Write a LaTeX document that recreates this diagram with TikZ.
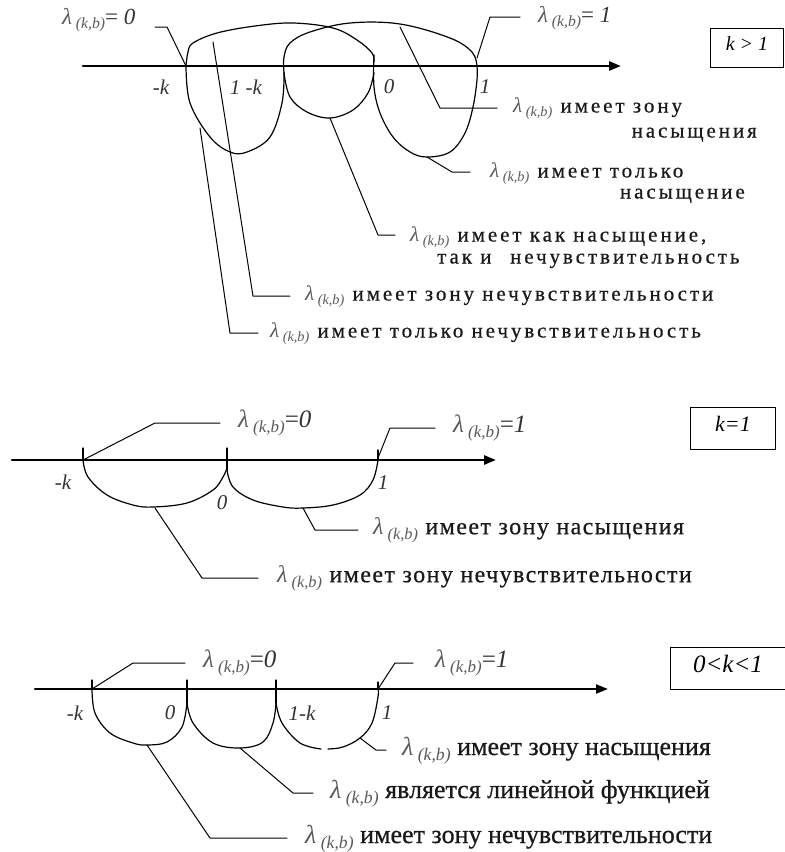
\documentclass[tikz,border=0pt]{standalone}
\usepackage{fontspec}
\setmainfont{Liberation Serif}
\newfontfamily\spc[LetterSpace=14,FakeBold=0.6]{Liberation Serif}
\newfontfamily\spb[LetterSpace=6,FakeBold=0.6]{Liberation Serif}
\newfontfamily\spn[FakeBold=0.6]{Liberation Serif}
\usepackage{graphicx}
\usetikzlibrary{arrows.meta}
\newcommand\lmb{{\color{black!65}\fontspec{Liberation Serif}\textit{λ}\,\raisebox{-0.45ex}{\scalebox{0.68}{\textit{(k,b)}}}}}
\begin{document}
\begin{tikzpicture}[x=1pt,y=-1pt,line cap=round,line join=round,
  axisln/.style={line width=2.6pt,-{Triangle[length=12pt,width=9pt]}},
  crv/.style={line width=1.2pt},
  lead/.style={line width=1pt},
  tick/.style={line width=1.2pt},
  txtA/.style={anchor=west,inner sep=0pt,text height=12pt,text depth=3pt,text=black!90,font=\spc\fontsize{21}{24}\selectfont},
  txtB/.style={anchor=west,inner sep=0pt,text=black!90,font=\spb\fontsize{24}{27}\selectfont},
  txtC/.style={anchor=west,inner sep=0pt,text height=14pt,text depth=4pt,text=black!90,font=\spn\fontsize{26}{29}\selectfont},
  eqn/.style={anchor=west,inner sep=0pt,text=black!80,font=\fontsize{23}{26}\selectfont},
  eqnb/.style={eqn,font=\fontsize{25}{28}\selectfont},
  axl/.style={inner sep=0pt,text=black!80,font=\itshape\fontsize{21}{24}\selectfont},
  boxn/.style={draw,line width=1pt,anchor=north west,inner sep=0pt,font=\itshape\fontsize{20}{23}\selectfont}]
\useasboundingbox (0,0) rectangle (785,852);

% ================= k > 1 =================
\coordinate (a0) at (83,66);
\coordinate (a1) at (621,66);
\draw[axisln] (a0) -- (a1);
\coordinate (mk) at (186,66);
\coordinate (omk) at (284,66);
\coordinate (z) at (374,66);
\coordinate (one) at (477,66);
% upper arcs
\draw[crv] plot[smooth,tension=0.6] coordinates {(186,66) (188,52) (193,43) (217,33) (255,26) (293,23) (333,28) (357,40) (372,53) (374,62)};
\draw[crv] plot[smooth,tension=0.6] coordinates {(284,73) (284,57) (290,43) (310,32) (350,23) (400,24) (450,38) (472,52) (477,66)};
% lower arcs
\draw[crv] plot[smooth,tension=0.6] coordinates {(186,66) (190,103) (210,137) (230,152) (247,152) (270,137) (282,103) (284,73)};
\draw[crv] plot[smooth,tension=0.6] coordinates {(284,73) (290,97) (307,112) (330,118) (353,110) (368,93) (374,73)};
\draw[crv] plot[smooth,tension=0.6] coordinates {(374,55) (374,87) (380,113) (393,137) (410,152) (427,157) (450,152) (465,133) (473,107) (477,80) (477,66)};
% axis labels
\node[axl] (lmk) at (161,87) {-k};
\node[axl] (lomk) at (246,87) {1 -k};
\node[axl] (lz) at (389,87) {0};
\node[axl] (lone) at (485,87) {1};
% box
\node[boxn,minimum width=73pt,minimum height=39pt,text depth=9pt] (boxA) at (710,28) {k > 1};
% equality labels
\node[eqn] (e0) at (62,20) {\lmb= \textit{0}};
\node[eqn] (e1) at (538,18) {\lmb= \textit{1}};
\coordinate (e0a) at (167,27); \coordinate (e0b) at (155,27);
\draw[lead] (mk) -- (e0a) -- (e0b);
\coordinate (e1s) at (477,58); \coordinate (e1a) at (490,17); \coordinate (e1b) at (520,17);
\draw[lead] (e1s) -- (e1a) -- (e1b);
% descriptions
\node[txtA] (t1) at (513,108) {\lmb\ имеет зону};
\node[txtA,anchor=east] (t1b) at (757,133) {насыщения};
\coordinate (s1) at (400,27); \coordinate (s1a) at (440,108); \coordinate (s1b) at (497,108);
\draw[lead] (s1) -- (s1a) -- (s1b);
\node[txtA] (t2) at (490,173) {\lmb\ имеет только};
\node[txtA,anchor=east] (t2b) at (745,194) {насыщение};
\coordinate (s2) at (427,157); \coordinate (s2a) at (452,172); \coordinate (s2b) at (470,172);
\draw[lead] (s2) -- (s2a) -- (s2b);
\node[txtA] (t3) at (410,237) {\lmb\ имеет как насыщение,};
\node[txtA] (t3b) at (437,259) {так и\hspace{0.5em} нечувствительность};
\coordinate (s3) at (330,118); \coordinate (s3a) at (378,235); \coordinate (s3b) at (395,235);
\draw[lead] (s3) -- (s3a) -- (s3b);
\node[txtA] (t4) at (305,296) {\lmb\ имеет зону нечувствительности};
\coordinate (s4) at (213,42); \coordinate (s4a) at (253,296); \coordinate (s4b) at (290,296);
\draw[lead] (s4) -- (s4a) -- (s4b);
\node[txtA] (t5) at (270,333) {\lmb\ имеет только нечувствительность};
\coordinate (s5) at (200,128); \coordinate (s5a) at (230,333); \coordinate (s5b) at (258,333);
\draw[lead] (s5) -- (s5a) -- (s5b);

% ================= k = 1 =================
\coordinate (b0) at (12,460);
\coordinate (b1) at (496,460);
\draw[axisln] (b0) -- (b1);
\coordinate (mk2) at (83,460);
\coordinate (z2) at (227,460);
\coordinate (one2) at (378,460);
\draw[tick] (83,448) -- (mk2);
\draw[tick] (227,448) -- (227,470);
\draw[tick] (378,450) -- (one2);
\draw[crv] plot[smooth,tension=0.6] coordinates {(83,460) (88,477) (107,495) (133,505) (153,507) (187,503) (213,490) (223,477) (227,468)};
\draw[crv] plot[smooth,tension=0.6] coordinates {(227,470) (233,487) (253,500) (283,507) (303,508) (333,505) (360,495) (373,480) (378,460)};
\node[axl] (lmk2) at (63,482) {-k};
\node[axl] (lz2) at (222,503) {0};
\node[axl] (lone2) at (383,483) {1};
\node[boxn,minimum width=85pt,minimum height=42pt,text depth=10pt,font=\itshape\fontsize{22}{25}\selectfont] (boxB) at (690,407) {k=1};
\node[eqnb] (f0) at (238,423) {\lmb=\textit{0}};
\node[eqnb] (f1) at (453,428) {\lmb=\textit{1}};
\coordinate (f0a) at (155,423); \coordinate (f0b) at (220,423);
\draw[lead] (mk2) -- (f0a) -- (f0b);
\coordinate (f1s) at (378,458); \coordinate (f1a) at (390,428); \coordinate (f1b) at (435,428);
\draw[lead] (f1s) -- (f1a) -- (f1b);
\node[txtB] (u1) at (373,530) {\lmb\ имеет зону насыщения};
\coordinate (r1) at (303,508); \coordinate (r1a) at (315,530); \coordinate (r1b) at (358,530);
\draw[lead] (r1) -- (r1a) -- (r1b);
\node[txtB] (u2) at (277,578) {\lmb\ имеет зону нечувствительности};
\coordinate (r2) at (155,508); \coordinate (r2a) at (202,578); \coordinate (r2b) at (258,578);
\draw[lead] (r2) -- (r2a) -- (r2b);

% ================= 0 < k < 1 =================
\coordinate (c0) at (35,689);
\coordinate (c1) at (608,689);
\draw[axisln,line width=2.2pt] (c0) -- (c1);
\coordinate (mk3) at (92,689);
\coordinate (z3) at (187,689);
\coordinate (omk3) at (276,689);
\coordinate (one3) at (378,689);
\draw[tick] (92,680) -- (mk3);
\draw[tick] (187,680) -- (187,703);
\draw[tick] (276,680) -- (276,703);
\draw[tick] (378,682) -- (one3);
\draw[crv] plot[smooth,tension=0.6] coordinates {(92,689) (95,713) (110,733) (133,743) (147,745) (167,742) (182,727) (187,703)};
\draw[crv] plot[smooth,tension=0.6] coordinates {(187,703) (193,723) (213,743) (240,748) (263,742) (273,723) (276,703)};
\draw[crv] plot[smooth,tension=0.6] coordinates {(276,703) (282,723) (300,743) (321,749)};
\draw[crv] plot[smooth,tension=0.6] coordinates {(328,749) (343,747) (360,738) (372,723) (378,697) (378,689)};
\node[axl] (lmk3) at (75,713) {-k};
\node[axl] (lz3) at (170,713) {0};
\node[axl] (lomk3) at (302,713) {1-k};
\node[axl] (lone3) at (387,713) {1};
\node[boxn,minimum width=115pt,minimum height=42pt,text depth=10pt,font=\itshape\fontsize{25}{28}\selectfont] (boxC) at (670,647) {0<k<1};
\node[eqnb] (g0) at (203,663) {\lmb=\textit{0}};
\node[eqnb] (g1) at (435,663) {\lmb=\textit{1}};
\coordinate (g0a) at (133,663); \coordinate (g0b) at (185,663);
\draw[lead] (mk3) -- (g0a) -- (g0b);
\coordinate (g1a) at (395,663); \coordinate (g1b) at (413,663);
\draw[lead] (one3) -- (g1a) -- (g1b);
\node[txtC] (v1) at (402,750) {\lmb\ имеет зону насыщения};
\coordinate (q1) at (360,738); \coordinate (q1a) at (376,750); \coordinate (q1b) at (386,750);
\draw[lead] (q1) -- (q1a) -- (q1b);
\node[txtC] (v2) at (330,793) {\lmb\ является линейной функцией};
\coordinate (q2) at (240,748); \coordinate (q2a) at (293,793); \coordinate (q2b) at (313,793);
\draw[lead] (q2) -- (q2a) -- (q2b);
\node[txtC] (v3) at (305,838) {\lmb\ имеет зону нечувствительности};
\coordinate (q3) at (147,745); \coordinate (q3a) at (210,838); \coordinate (q3b) at (287,838);
\draw[lead] (q3) -- (q3a) -- (q3b);
\end{tikzpicture}
\end{document}
